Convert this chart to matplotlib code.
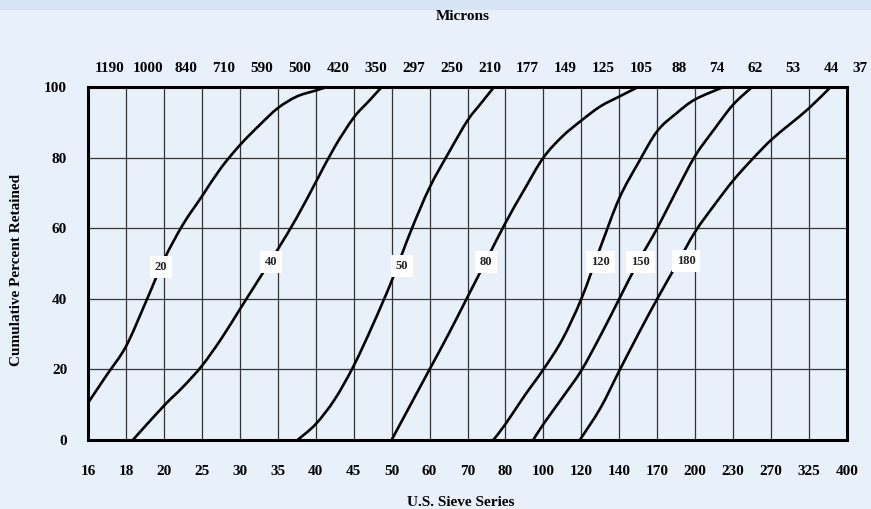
import matplotlib
matplotlib.use("Agg")
import matplotlib.pyplot as plt
import matplotlib.transforms as mtransforms
from matplotlib.patches import Rectangle, PathPatch
from matplotlib.path import Path

plt.rcParams['font.family'] = ['Liberation Serif', 'DejaVu Serif']
plt.rcParams['font.weight'] = 'bold'

# sieve numbers (bottom) and microns (top), one per grid column
sieve = ['16', '18', '20', '25', '30', '35', '40', '45', '50', '60', '70',
         '80', '100', '120', '140', '170', '200', '230', '270', '325', '400']
microns = ['1190', '1000', '840', '710', '590', '500', '420', '350', '297', '250', '210',
           '177', '149', '125', '105', '88', '74', '62', '53', '44', '37']

# curves: x = position on sieve scale (0 = 16 mesh), y = % retained
c20_x = [0, 0.5, 1, 1.5, 2, 2.5, 3, 3.5, 4, 4.5, 5, 5.5, 6, 6.3]
c20_y = [10.5, 18.5, 26.5, 38.5, 51, 61, 69, 77, 83.5, 89, 94, 97.3, 99, 100]

c40_x = [1.18, 2, 2.5, 3, 3.5, 4, 4.5, 5, 5.5, 6, 6.5, 7, 7.4, 7.74]
c40_y = [0, 9.7, 15, 21, 28.5, 37, 45.5, 54, 63, 73, 83, 91.3, 96, 100]

c50_x = [5.52, 6, 6.5, 7, 7.5, 8, 8.5, 9, 9.5, 10, 10.35, 10.7]
c50_y = [0, 4.5, 11.5, 21, 32.5, 45, 59, 71.5, 81.3, 90.5, 95.3, 100]

c80_x = [8.0, 8.5, 9, 9.5, 10, 10.5, 11, 11.5, 12, 12.5, 13, 13.5, 14, 14.5]
c80_y = [0, 10, 20, 30, 40.5, 51, 61.5, 71, 80, 86, 90.5, 94.5, 97.3, 100]

c120_x = [10.68, 11, 11.5, 12, 12.5, 13, 13.5, 14, 14.5, 15, 15.5, 16, 16.75]
c120_y = [0, 4.5, 12.5, 20, 28.5, 40, 54.5, 68.5, 78.5, 87.5, 92.5, 96.5, 100]

c150_x = [11.73, 12, 12.5, 13, 13.5, 14, 14.5, 15, 15.5, 16, 16.5, 17, 17.5]
c150_y = [0, 4.5, 12, 19.7, 29.5, 40, 50.5, 60, 70.5, 80.5, 88, 95, 100]

c180_x = [12.96, 13.5, 14, 14.5, 15, 15.5, 16, 16.5, 17, 17.5, 18, 18.5, 19, 19.57]
c180_y = [0, 9, 19.6, 30, 40, 49.5, 59, 66.5, 73.5, 79.5, 85, 89.5, 94, 100]

curves = [(c20_x, c20_y), (c40_x, c40_y), (c50_x, c50_y), (c80_x, c80_y),
          (c120_x, c120_y), (c150_x, c150_y), (c180_x, c180_y)]

# curve tags and where they sit
tag_text = ['20', '40', '50', '80', '120', '150', '180']
tag_x = [1.92, 4.82, 8.27, 10.49, 13.5, 14.56, 15.76]
tag_y = [49.1, 50.3, 49.4, 50.3, 50.3, 50.3, 50.6]

bg = '#e8f0fa'


def smooth_path(xs, ys):
    # catmull-rom through the read points, as bezier segments
    pts = list(zip(xs, ys))
    verts = [pts[0]]
    codes = [Path.MOVETO]
    n = len(pts)
    for i in range(n - 1):
        p0 = pts[i - 1] if i > 0 else pts[i]
        p1 = pts[i]
        p2 = pts[i + 1]
        p3 = pts[i + 2] if i + 2 < n else pts[i + 1]
        c1 = (p1[0] + (p2[0] - p0[0]) / 6, p1[1] + (p2[1] - p0[1]) / 6)
        c2 = (p2[0] - (p3[0] - p1[0]) / 6, p2[1] - (p3[1] - p1[1]) / 6)
        verts += [c1, c2, p2]
        codes += [Path.CURVE4] * 3
    return Path(verts, codes)


fig = plt.figure(figsize=(8.71, 5.09), dpi=100, facecolor=bg)
fig.patches.append(Rectangle((0, 1 - 10 / 509), 1, 10 / 509, transform=fig.transFigure,
                             facecolor='#d6e4f5', edgecolor='none', zorder=0))

ax = fig.add_axes([88 / 871, 1 - 440 / 509, (847 - 88) / 871, (440 - 87) / 509])
ax.set_facecolor(bg)

for x, y in curves:
    ax.add_patch(PathPatch(smooth_path(x, y), facecolor='none', edgecolor='black',
                           lw=1.9, joinstyle='round', capstyle='butt', zorder=3,
                           clip_on=False))

for t, x, y in zip(tag_text, tag_x, tag_y):
    ax.text(x, y, t, fontsize=9, ha='center', va='center', color='#222222', zorder=4,
            bbox=dict(boxstyle='square,pad=0.4', facecolor='white', edgecolor='none'))

ax.set_xlim(0, 20)
ax.set_ylim(0, 100)
ax.set_xticks(range(len(sieve)))
ax.set_xticklabels(sieve)
ax.set_yticks([0, 20, 40, 60, 80, 100])
ax.tick_params(length=0, labelsize=11, pad=18)
ax.tick_params(axis='y', pad=15)
ax.grid(True, color='#333333', lw=0.9)
ax.set_axisbelow(True)
for s in ax.spines.values():
    s.set_linewidth(2.2)
    s.set_color('black')

# micron scale along the top, shifted a bit to the right of the grid lines
off = mtransforms.ScaledTranslation(0, 19 / 100, fig.dpi_scale_trans)
for i, m in enumerate(microns):
    xpos = i + 0.58 if i < len(microns) - 1 else i + 0.35
    ax.text(xpos, 100, m, fontsize=11, ha='center', va='center', clip_on=False,
            transform=ax.transData + off)

fig.text(463 / 871, 1 - 16 / 509, 'Microns', fontsize=11, ha='center', va='center')
fig.text(461 / 871, 1 - 502 / 509, 'U.S. Sieve Series', fontsize=11, ha='center', va='center')
fig.text(17 / 871, 1 - 270 / 509, 'Cumulative Percent Retained', fontsize=11,
         ha='center', va='center', rotation=90)

fig.savefig('out.png', dpi=100, facecolor=bg)
